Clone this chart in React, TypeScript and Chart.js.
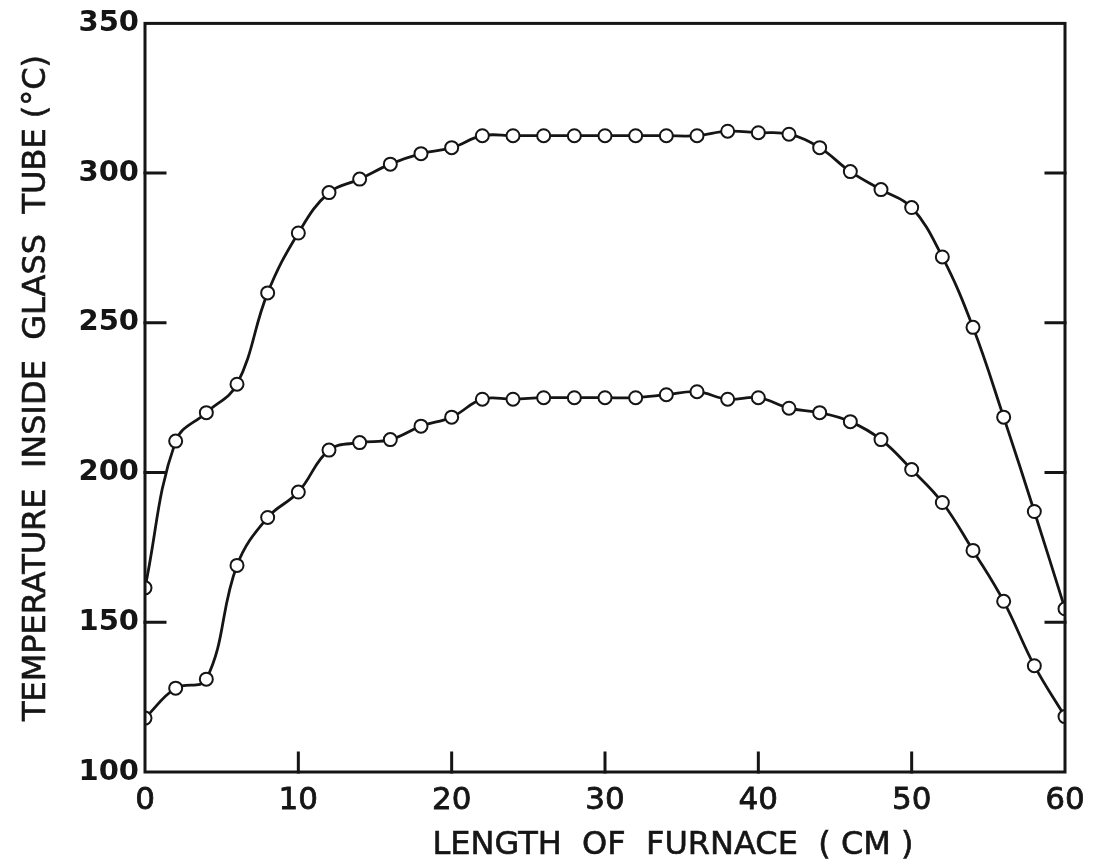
import React, { useEffect, useRef } from "react";
import { Chart, registerables } from "chart.js";

Chart.register(...registerables);

const lengthCm = [0, 2, 4, 6, 8, 10, 12, 14, 16, 18, 20, 22, 24, 26, 28, 30, 32, 34, 36, 38, 40, 42, 44, 46, 48, 50, 52, 54, 56, 58, 60];
const upperTemp = [161.5, 210.5, 220, 229.5, 260, 280, 293.5, 298, 303, 306.5, 308.5, 312.5, 312.5, 312.5, 312.5, 312.5, 312.5, 312.5, 312.5, 314, 313.5, 313, 308.5, 300.5, 294.5, 288.5, 272, 248.5, 218.5, 187, 154.5];
const lowerTemp = [118, 128, 131, 169, 185, 193.5, 207.5, 210, 211, 215.5, 218.5, 224.5, 224.5, 225, 225, 225, 225, 226, 227, 224.5, 225, 221.5, 220, 217, 211, 201, 190, 174, 157, 135.5, 118.5];

const xTickMarks = [10, 20, 30, 40, 50];
const yTickMarks = [150, 200, 250, 300];
const xTitle = "LENGTH  OF  FURNACE  ( CM )";
const yTitle = "TEMPERATURE  INSIDE  GLASS  TUBE (°C)";

const INK = "#151515";

const framePlugin = {
  id: "frame",
  afterDatasetsDraw(chart: any) {
    const { ctx, chartArea } = chart;
    const { left, right, top, bottom } = chartArea;
    const xs = chart.scales.x;
    const ys = chart.scales.y;
    ctx.save();
    ctx.strokeStyle = INK;
    ctx.lineWidth = 3;
    ctx.lineCap = "square";
    ctx.strokeRect(left, top, right - left, bottom - top);
    ctx.beginPath();
    yTickMarks.forEach((v) => {
      const y = ys.getPixelForValue(v);
      ctx.moveTo(left, y);
      ctx.lineTo(left + 20, y);
      ctx.moveTo(right, y);
      ctx.lineTo(right - 19, y);
    });
    xTickMarks.forEach((v) => {
      const x = xs.getPixelForValue(v);
      ctx.moveTo(x, bottom);
      ctx.lineTo(x, bottom - 19);
    });
    ctx.stroke();

    ctx.fillStyle = INK;
    ctx.strokeStyle = INK;
    ctx.lineWidth = 0.6;
    ctx.textAlign = "center";
    ctx.textBaseline = "middle";
    ctx.font = "32px 'DejaVu Sans'";
    ctx.fillText(xTitle, 673, 846);
    ctx.strokeText(xTitle, 673, 846);

    ctx.save();
    ctx.translate(37, 388);
    ctx.rotate(-Math.PI / 2);
    ctx.font = "32px 'DejaVu Sans'";
    ctx.fillText(yTitle, 0, 0);
    ctx.strokeText(yTitle, 0, 0);
    ctx.restore();
    ctx.restore();
  },
};

export default function App() {
  const canvasRef = useRef<HTMLCanvasElement | null>(null);

  useEffect(() => {
    document.body.style.margin = "0";
    const canvas = canvasRef.current;
    if (!canvas) return;
    const ds = (data: number[]) => ({
      data: lengthCm.map((x, i) => ({ x, y: data[i] })),
      borderColor: INK,
      borderWidth: 2.8,
      pointRadius: 6.5,
      pointBorderWidth: 2,
      pointBackgroundColor: "#ffffff",
      pointBorderColor: INK,
      tension: 0.4,
      fill: false,
      clip: 0,
    });
    const chart = new Chart(canvas, {
      type: "line",
      data: { datasets: [ds(upperTemp), ds(lowerTemp)] },
      options: {
        animation: false,
        responsive: false,
        devicePixelRatio: 1,
        layout: { padding: { top: 19, right: 32, left: 0, bottom: 0 } },
        plugins: { legend: { display: false }, tooltip: { enabled: false } },
        scales: {
          x: {
            type: "linear",
            min: 0,
            max: 60,
            ticks: {
              stepSize: 10,
              color: INK,
              font: { family: "'DejaVu Sans'", size: 31 },
              padding: 10,
              maxRotation: 0,
              textStrokeColor: INK,
              textStrokeWidth: 0.8,
            },
            grid: { display: false, drawTicks: false },
            border: { display: false },
            afterFit: (s: any) => {
              s.height = 94;
            },
          },
          y: {
            type: "linear",
            min: 100,
            max: 350,
            ticks: {
              stepSize: 50,
              color: INK,
              font: { family: "'DejaVu Sans'", size: 29, weight: "bold" },
              padding: 6,
            },
            grid: { display: false, drawTicks: false },
            border: { display: false },
            afterFit: (s: any) => {
              s.width = 145;
            },
          },
        },
      },
      plugins: [framePlugin],
    });
    return () => chart.destroy();
  }, []);

  return (
    <div style={{ width: 1097, height: 866, background: "#fff" }}>
      <canvas ref={canvasRef} width={1097} height={866} />
    </div>
  );
}
